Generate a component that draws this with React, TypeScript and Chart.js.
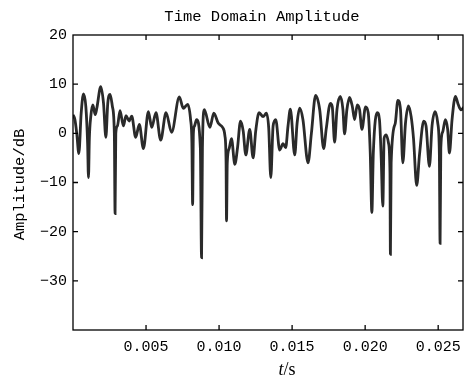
import React, { useEffect, useRef } from 'react';
import { Chart, registerables } from 'chart.js';

Chart.register(...registerables);

// time in seconds
const timeS: number[] = [
  0.00000, 0.00013, 0.00026, 0.00040, 0.00056, 0.00072, 0.00088, 0.00100, 0.00106, 0.00112,
  0.00122, 0.00136, 0.00152, 0.00163, 0.00190, 0.00209, 0.00225, 0.00238, 0.00254, 0.00270,
  0.00283, 0.00288, 0.00293, 0.00304, 0.00322, 0.00345, 0.00363, 0.00384, 0.00402, 0.00429,
  0.00454, 0.00482, 0.00516, 0.00539, 0.00568, 0.00600, 0.00637, 0.00675, 0.00728, 0.00755,
  0.00785, 0.00805, 0.00814, 0.00819, 0.00824, 0.00832, 0.00846, 0.00872, 0.00880, 0.00886,
  0.00899, 0.00937, 0.00964, 0.00994, 0.01024, 0.01040, 0.01048, 0.01051, 0.01056, 0.01069,
  0.01085, 0.01108, 0.01126, 0.01147, 0.01165, 0.01183, 0.01210, 0.01233, 0.01251, 0.01274,
  0.01301, 0.01324, 0.01340, 0.01354, 0.01370, 0.01388, 0.01415, 0.01438, 0.01456, 0.01472,
  0.01488, 0.01518, 0.01534, 0.01552, 0.01574, 0.01609, 0.01632, 0.01661, 0.01689, 0.01716,
  0.01734, 0.01762, 0.01775, 0.01791, 0.01807, 0.01830, 0.01848, 0.01859, 0.01875, 0.01893,
  0.01912, 0.01928, 0.01946, 0.01962, 0.01978, 0.02003, 0.02021, 0.02035, 0.02046, 0.02056,
  0.02083, 0.02098, 0.02110, 0.02121, 0.02130, 0.02144, 0.02160, 0.02170, 0.02173, 0.02178,
  0.02206, 0.02224, 0.02242, 0.02258, 0.02276, 0.02296, 0.02315, 0.02331, 0.02353, 0.02372,
  0.02401, 0.02417, 0.02440, 0.02458, 0.02479, 0.02497, 0.02508, 0.02513, 0.02518, 0.02531,
  0.02549, 0.02565, 0.02577, 0.02595, 0.02618, 0.02638, 0.02656, 0.02679,
];

// amplitude in dB
const amplitudeDb: number[] = [
  3.8, 2.8, -0.1, -4.1, 4.1, 8.0, 5.4, -2.0, -9.0, -1.0,
  3.5, 5.8, 3.8, 5.1, 9.5, 6.1, -0.8, 6.1, 7.9, 5.4,
  0.0, -16.3, 0.0, 1.5, 4.6, 1.5, 3.6, 2.5, 3.5, -0.8,
  1.8, -3.1, 4.4, 1.2, 4.2, -1.4, 4.2, 0.2, 7.4, 5.1,
  5.9, 2.8, -2.0, -14.5, 0.0, 1.5, 2.8, -3.0, -25.3, -3.0,
  4.8, 1.2, 4.1, 2.1, 1.2, -0.5, -6.0, -17.8, -6.0, -3.1,
  -1.1, -6.3, -3.0, 2.5, 0.5, -4.4, 0.8, -5.0, 0.5, 4.2,
  3.4, 4.1, 1.0, -9.0, 1.5, 2.8, -3.4, -2.1, -2.9, 1.5,
  4.9, -4.4, 2.0, 5.1, 2.8, -6.0, 0.0, 7.7, 4.8, -3.1,
  1.0, 6.1, 5.4, -1.8, 4.8, 7.5, 4.8, -0.1, 4.8, 7.3,
  5.5, 2.8, 5.8, 4.8, 0.8, 5.4, 4.2, -4.0, -16.1, -4.0,
  4.2, 2.8, -5.0, -14.8, -1.0, -0.3, -2.0, -8.0, -24.6, -6.0,
  2.0, 6.7, 4.8, -6.0, 2.0, 5.6, 3.4, -1.0, -10.6, -4.4,
  2.5, 1.5, -6.7, 1.5, 4.4, 2.1, -4.0, -22.4, -3.0, 0.3,
  2.8, 0.8, -4.0, 2.8, 7.5, 5.8, 4.8, 5.4,
];

const X_MIN = 0;
const X_MAX = 0.0267;
const X_STEP = 0.005;
const Y_MIN = -40;
const Y_MAX = 20;
const Y_STEP = 10;

const TITLE = 'Time Domain Amplitude';
const Y_TITLE = 'Amplitude/dB';
const X_TITLE_ITALIC = 't';
const X_TITLE_REST = '/s';

const MONO = '"Liberation Mono", "DejaVu Sans Mono", monospace';

export default function App() {
  const ref = useRef<HTMLCanvasElement>(null);

  useEffect(() => {
    document.body.style.margin = '0';
    const canvas = ref.current;
    if (!canvas) return;

    const framePlugin = {
      id: 'frame',
      afterDraw(chart: any) {
        const { ctx, chartArea: a, scales } = chart;
        const xs = scales.x;
        const ys = scales.y;
        ctx.save();
        ctx.strokeStyle = '#000';
        ctx.lineWidth = 1.3;
        ctx.strokeRect(a.left, a.top, a.right - a.left, a.bottom - a.top);
        const L = 5;
        ctx.beginPath();
        xs.ticks.forEach((t: any) => {
          const px = xs.getPixelForValue(t.value);
          if (px <= a.left + 1 || px >= a.right - 1) return;
          ctx.moveTo(px, a.bottom);
          ctx.lineTo(px, a.bottom - L);
          ctx.moveTo(px, a.top);
          ctx.lineTo(px, a.top + L);
        });
        ys.ticks.forEach((t: any) => {
          const py = ys.getPixelForValue(t.value);
          if (py <= a.top + 1 || py >= a.bottom - 1) return;
          ctx.moveTo(a.left, py);
          ctx.lineTo(a.left + L, py);
          ctx.moveTo(a.right, py);
          ctx.lineTo(a.right - L, py);
        });
        ctx.stroke();

        ctx.fillStyle = '#000';
        // title
        ctx.font = `15.5px ${MONO}`;
        ctx.textAlign = 'center';
        ctx.textBaseline = 'middle';
        ctx.fillText(TITLE, (a.left + a.right) / 2 - 6, a.top - 18);

        // y title
        ctx.save();
        ctx.translate(20, (a.top + a.bottom) / 2 + 2);
        ctx.rotate(-Math.PI / 2);
        ctx.fillText(Y_TITLE, 0, 0);
        ctx.restore();

        // x title
        const cx = (a.left + a.right) / 2 + 19;
        const cy = a.bottom + 40;
        ctx.font = 'italic 18px "Liberation Serif", serif';
        const w1 = ctx.measureText(X_TITLE_ITALIC).width;
        ctx.font = '18px "Liberation Serif", serif';
        const w2 = ctx.measureText(X_TITLE_REST).width;
        const start = cx - (w1 + w2) / 2;
        ctx.textAlign = 'left';
        ctx.font = 'italic 18px "Liberation Serif", serif';
        ctx.fillText(X_TITLE_ITALIC, start, cy);
        ctx.font = '18px "Liberation Serif", serif';
        ctx.fillText(X_TITLE_REST, start + w1, cy);
        ctx.restore();
      },
    };

    const chart = new Chart(canvas, {
      type: 'line',
      data: {
        datasets: [
          {
            data: timeS.map((t, i) => ({ x: t, y: amplitudeDb[i] })),
            borderColor: '#2a2a2a',
            borderWidth: 2.8,
            pointRadius: 0,
            cubicInterpolationMode: 'monotone',
            fill: false,
          },
        ],
      },
      options: {
        animation: false,
        responsive: false,
        maintainAspectRatio: false,
        layout: { padding: { top: 35, right: 5, left: 0, bottom: 0 } },
        plugins: {
          legend: { display: false },
          tooltip: { enabled: false },
          title: { display: false },
        },
        scales: {
          x: {
            type: 'linear',
            min: X_MIN,
            max: X_MAX,
            grid: { display: false, drawTicks: false },
            border: { display: false },
            ticks: {
              stepSize: X_STEP,
              includeBounds: false,
              autoSkip: false,
              maxRotation: 0,
              padding: 8,
              color: '#000',
              font: { family: MONO, size: 15 },
              callback: (v: any) => (Math.abs(Number(v)) < 1e-9 ? '' : Number(v).toFixed(3)),
            },
            afterFit: (s: any) => {
              s.height = 50;
            },
          },
          y: {
            type: 'linear',
            min: Y_MIN,
            max: Y_MAX,
            grid: { display: false, drawTicks: false },
            border: { display: false },
            ticks: {
              stepSize: Y_STEP,
              padding: 6,
              color: '#000',
              font: { family: MONO, size: 15 },
              callback: (v: any) => {
                const n = Number(v);
                if (n === Y_MIN) return '';
                return n < 0 ? '\u2212' + Math.abs(n) : String(n);
              },
            },
            afterFit: (s: any) => {
              s.width = 73;
            },
          },
        },
      } as any,
      plugins: [framePlugin],
    });

    return () => chart.destroy();
  }, []);

  return (
    <div style={{ width: 469, height: 380, background: '#fff' }}>
      <canvas ref={ref} width={469} height={380} style={{ display: 'block' }} />
    </div>
  );
}
